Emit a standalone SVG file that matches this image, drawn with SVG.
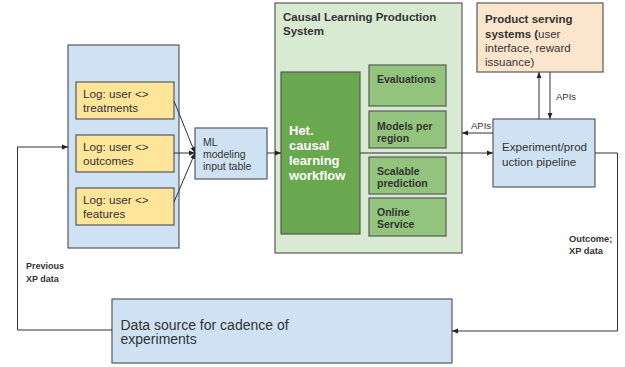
<svg xmlns="http://www.w3.org/2000/svg" width="625" height="367" viewBox="0 0 625 367">
<defs>
<marker id="ah" viewBox="0 0 10 10" refX="10" refY="5" markerWidth="6" markerHeight="6" markerUnits="userSpaceOnUse" orient="auto">
<path d="M0,1 L10,5 L0,9 z" fill="#222"/>
</marker>
</defs>
<style>
text{font-family:"Liberation Sans",Arial,sans-serif;fill:#333}
.b{font-weight:bold}
.box{stroke:#595959;stroke-width:1.2}
.blue{fill:#cfe2f3}
.yel{fill:#ffe599}
.gl{fill:#d9ead3}
.gd{fill:#6aa84f}
.gm{fill:#93c47d}
.pe{fill:#fce5cd}
.c{fill:none;stroke:#333;stroke-width:1}
</style>
<rect width="625" height="367" fill="#fff"/>
<g id="logs">
<rect class="box blue" x="68" y="45" width="111" height="203"/>
</g>
<g id="log-treatments">
<rect class="box yel" x="76" y="82" width="98" height="37"/>
<text x="83" y="97.5" font-size="11.7">Log: user &lt;&gt;</text>
<text x="83" y="112" font-size="11.7">treatments</text>
</g>
<g id="log-outcomes">
<rect class="box yel" x="76" y="135" width="98" height="37"/>
<text x="83" y="151" font-size="11.7">Log: user &lt;&gt;</text>
<text x="83" y="164.5" font-size="11.7">outcomes</text>
</g>
<g id="log-features">
<rect class="box yel" x="76" y="188" width="98" height="37"/>
<text x="83" y="204" font-size="11.7">Log: user &lt;&gt;</text>
<text x="83" y="217.5" font-size="11.7">features</text>
</g>
<g id="ml-table">
<rect class="box blue" x="195" y="128" width="72" height="51"/>
<text x="203" y="145.5" font-size="10.5">ML</text>
<text x="203" y="158" font-size="10.5">modeling</text>
<text x="203" y="169.5" font-size="10.5">input table</text>
</g>
<g id="clps">
<rect class="box gl" x="275" y="3" width="187" height="250"/>
<text class="b" x="283" y="21" font-size="11.5">Causal Learning Production</text>
<text class="b" x="283" y="35" font-size="11.5">System</text>
</g>
<g id="het">
<rect class="box gd" x="281" y="72" width="79" height="162"/>
<text class="b" x="289" y="134.5" font-size="13" style="fill:#fff">Het.</text>
<text class="b" x="289" y="149.5" font-size="13" style="fill:#fff">causal</text>
<text class="b" x="289" y="164.5" font-size="13" style="fill:#fff">learning</text>
<text class="b" x="289" y="179.5" font-size="13" style="fill:#fff">workflow</text>
</g>
<g id="evaluations">
<rect class="box gm" x="369" y="65" width="77" height="41"/>
<text class="b" x="377" y="83" font-size="10.5">Evaluations</text>
</g>
<g id="models">
<rect class="box gm" x="369" y="111" width="77" height="37"/>
<text class="b" x="377" y="130" font-size="10.5">Models per</text>
<text class="b" x="377" y="142" font-size="10.5">region</text>
</g>
<g id="scalable">
<rect class="box gm" x="369" y="157" width="77" height="37"/>
<text class="b" x="377" y="174.5" font-size="10.5">Scalable</text>
<text class="b" x="377" y="186.5" font-size="10.5">prediction</text>
</g>
<g id="online">
<rect class="box gm" x="369" y="198" width="77" height="38"/>
<text class="b" x="377" y="215.5" font-size="10.5">Online</text>
<text class="b" x="377" y="227.5" font-size="10.5">Service</text>
</g>
<g id="product">
<rect class="box pe" x="477" y="3" width="126" height="69"/>
<text class="b" x="485" y="23" font-size="11.5">Product serving</text>
<text x="485" y="38" font-size="11.5"><tspan class="b">systems (</tspan>user</text>
<text x="485" y="52" font-size="11.5">interface, reward</text>
<text x="485" y="66" font-size="11.5">issuance)</text>
</g>
<g id="experiment">
<rect class="box blue" x="493" y="119" width="102" height="68"/>
<text x="502" y="151" font-size="11.6">Experiment/prod</text>
<text x="502" y="166" font-size="11.6">uction pipeline</text>
</g>
<g id="datasource">
<rect class="box blue" x="112" y="299" width="340" height="64"/>
<text x="120.5" y="329.5" font-size="14">Data source for cadence of</text>
<text x="120.5" y="344" font-size="14">experiments</text>
</g>
<g id="connectors">
<path class="c" d="M174,101 L195,153" marker-end="url(#ah)"/>
<path class="c" d="M174,153 L195,153" marker-end="url(#ah)"/>
<path class="c" d="M174,202 L195,153" marker-end="url(#ah)"/>
<path class="c" d="M267,153 L281,153" marker-end="url(#ah)"/>
<path class="c" d="M360,153 L493,153" marker-end="url(#ah)"/>
<path class="c" d="M493,133 L462,133" marker-end="url(#ah)"/>
<path class="c" d="M539,119 L539,72" marker-end="url(#ah)"/>
<path class="c" d="M550,72 L550,119" marker-end="url(#ah)"/>
<path class="c" d="M595,153 L617.5,153 L617.5,331 L452,331" marker-end="url(#ah)"/>
<path class="c" d="M112,330 L17.5,330 L17.5,147 L68,147" marker-end="url(#ah)"/>
<text x="471" y="129" font-size="9.5">APIs</text>
<text x="556" y="100" font-size="9.5">APIs</text>
<text class="b" x="569" y="241.5" font-size="9.3">Outcome;</text>
<text class="b" x="569" y="254" font-size="9.3">XP data</text>
<text class="b" x="26" y="269" font-size="9">Previous</text>
<text class="b" x="26" y="281.5" font-size="9">XP data</text>
</g>
</svg>
